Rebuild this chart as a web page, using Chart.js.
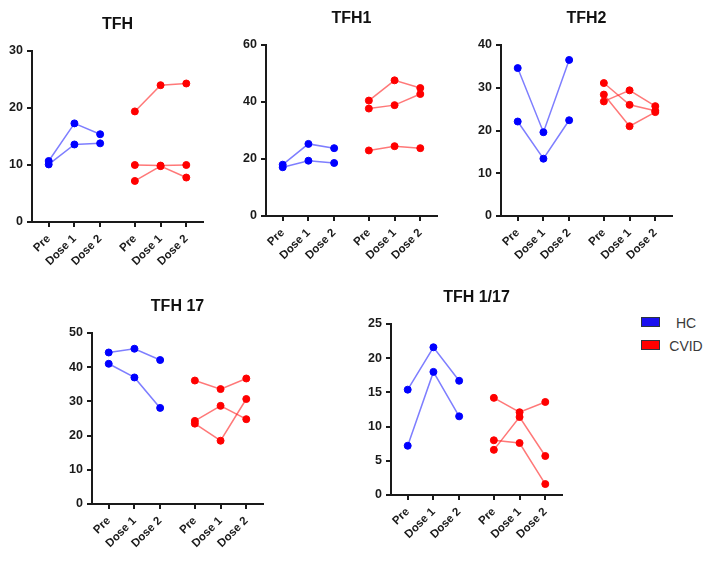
<!DOCTYPE html>
<html>
<head>
<meta charset="utf-8">
<title>TFH subsets</title>
<script src="https://cdn.jsdelivr.net/npm/chart.js@4.4.1/dist/chart.umd.min.js"></script>
<style>
  body { margin: 0; background: #fff; }
  #page { position: relative; width: 707px; height: 566px; overflow: hidden; }
  #page canvas { position: absolute; }
  .key-box { position: absolute; width: 17px; height: 8px; border: 1.3px solid #2b3440; }
  .key-text { position: absolute; width: 60px; text-align: center; font: 14px "Liberation Sans", Arial, sans-serif; color: #3a3a3a; line-height: 16px; }
</style>
</head>
<body>
<div id="page">
  <canvas id="c1" width="226" height="271"></canvas>
  <canvas id="c2" width="226" height="271"></canvas>
  <canvas id="c3" width="226" height="271"></canvas>
  <canvas id="c4" width="226" height="271"></canvas>
  <canvas id="c5" width="226" height="271"></canvas>
</div>
<script>
// * Data: one row per subject, values at Pre, Dose 1, Dose 2
const timepoints = ["Pre", "Dose 1", "Dose 2"];
const groups = ["HC", "CVID"];

const tfhHC = [[10.7, 17.3, 15.4], [10.1, 13.6, 13.8]];
const tfhCVID = [[19.4, 24.0, 24.3], [10.0, 9.9, 10.0], [7.2, 9.8, 7.8]];

const tfh1HC = [[18.0, 25.3, 23.8], [17.1, 19.4, 18.6]];
const tfh1CVID = [[40.5, 47.6, 44.9], [37.7, 38.9, 42.8], [23.0, 24.5, 23.8]];

const tfh2HC = [[34.6, 19.6, 36.5], [22.1, 13.4, 22.4]];
const tfh2CVID = [[31.1, 26.0, 24.6], [28.4, 21.0, 24.3], [26.8, 29.4, 25.7]];

const tfh17HC = [[44.3, 45.4, 42.1], [41.0, 37.0, 28.1]];
const tfh17CVID = [[36.1, 33.6, 36.7], [24.3, 28.7, 24.8], [23.5, 18.5, 30.7]];

const tfh117HC = [[15.4, 21.6, 16.7], [7.2, 18.0, 11.5]];
const tfh117CVID = [[14.2, 12.1, 13.6], [8.0, 7.6, 1.6], [6.6, 11.4, 5.7]];

// * Styles
const FONT = "'Liberation Sans', Arial, sans-serif";
const AXIS = "#1a1a1a";
const LINE_COLORS = ["rgba(40, 40, 255, 0.6)", "rgba(255, 30, 30, 0.6)"];
const POINT_COLORS = ["#0000ff", "#ff0000"];
const KEY_COLORS = ["#1a10f0", "#ff0000"];
const GROUP_STEP = 3.35; // * gap between HC and CVID blocks, in timepoint units

const panels = [
    { id: "c1", title: "TFH", hc: tfhHC, cvid: tfhCVID, yMax: 30, yStep: 10, left: 32, top: 51 },
    { id: "c2", title: "TFH1", hc: tfh1HC, cvid: tfh1CVID, yMax: 60, yStep: 20, left: 266, top: 45 },
    { id: "c3", title: "TFH2", hc: tfh2HC, cvid: tfh2CVID, yMax: 40, yStep: 10, left: 501, top: 45 },
    { id: "c4", title: "TFH 17", hc: tfh17HC, cvid: tfh17CVID, yMax: 50, yStep: 10, left: 92, top: 333 },
    { id: "c5", title: "TFH 1/17", hc: tfh117HC, cvid: tfh117CVID, yMax: 25, yStep: 5, left: 391, top: 324 },
];

const tickValues = [];
const tickLabels = [];
groups.forEach((g, gi) => {
    timepoints.forEach((t, ti) => {
        tickValues.push(gi * GROUP_STEP + ti);
        tickLabels.push(t);
    });
});

function buildDatasets(hc, cvid) {
    const out = [];
    [hc, cvid].forEach((subjects, gi) => {
        subjects.forEach((vals) => {
            out.push({
                label: groups[gi],
                data: vals.map((v, ti) => ({ x: gi * GROUP_STEP + ti, y: v })),
                borderColor: LINE_COLORS[gi],
                borderWidth: 1.5,
                pointBackgroundColor: POINT_COLORS[gi],
                pointBorderColor: POINT_COLORS[gi],
                pointBorderWidth: 1,
                pointRadius: 3.5,
                tension: 0,
                clip: false,
            });
        });
    });
    return out;
}

panels.forEach((p) => {
    const canvas = document.getElementById(p.id);
    canvas.style.left = (p.left - 40) + "px";
    canvas.style.top = (p.top - 40) + "px";

    new Chart(canvas.getContext("2d"), {
        type: "line",
        data: { datasets: buildDatasets(p.hc, p.cvid) },
        options: {
            responsive: false,
            animation: false,
            events: [],
            layout: { padding: { top: 4, right: 15, bottom: 0, left: 0 } },
            plugins: {
                legend: { display: false },
                tooltip: { enabled: false },
                title: {
                    display: true,
                    text: p.title,
                    fullSize: false, // * centre the title over the plot, not the canvas
                    color: "#111",
                    font: { family: FONT, size: 16, weight: "bold" },
                    padding: { top: 0, bottom: 16.8 },
                },
            },
            scales: {
                x: {
                    type: "linear",
                    min: -0.65,
                    max: 2 * GROUP_STEP - 0.7,
                    afterBuildTicks: (scale) => {
                        scale.ticks = tickValues.map((v) => ({ value: v }));
                    },
                    afterFit: (scale) => { scale.height = 60; },
                    ticks: {
                        autoSkip: false,
                        minRotation: 45,
                        maxRotation: 45,
                        padding: 5,
                        color: "#1a1a1a",
                        font: { family: FONT, size: 11.5, weight: "bold" },
                        callback: (v, i) => tickLabels[i],
                    },
                    grid: { drawOnChartArea: false, tickLength: 5, color: AXIS, lineWidth: 2 },
                    border: { color: AXIS, width: 2 },
                },
                y: {
                    min: 0,
                    max: p.yMax,
                    afterFit: (scale) => { scale.width = 40; },
                    ticks: {
                        stepSize: p.yStep,
                        padding: 4,
                        color: "#1a1a1a",
                        font: { family: FONT, size: 12.5, weight: "bold" },
                    },
                    grid: { drawOnChartArea: false, tickLength: 5, color: AXIS, lineWidth: 2 },
                    border: { color: AXIS, width: 2 },
                },
            },
        },
    });
});

// * Shared legend
const page = document.getElementById("page");
groups.forEach((g, gi) => {
    const box = document.createElement("div");
    box.className = "key-box";
    box.style.left = "641px";
    box.style.top = (317 + gi * 23) + "px";
    box.style.background = KEY_COLORS[gi];
    page.appendChild(box);

    const txt = document.createElement("div");
    txt.className = "key-text";
    txt.textContent = g;
    txt.style.left = "656px";
    txt.style.top = (314.5 + gi * 23) + "px";
    page.appendChild(txt);
});
</script>
</body>
</html>
